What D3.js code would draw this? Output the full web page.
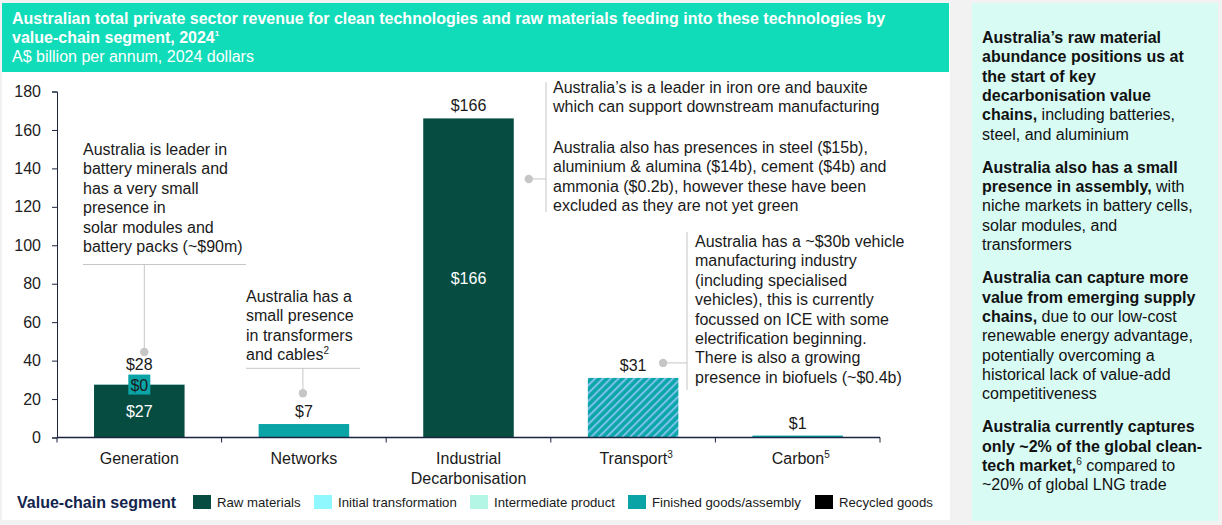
<!DOCTYPE html>
<html>
<head>
<meta charset="utf-8">
<script src="https://cdn.jsdelivr.net/npm/d3@7"></script>
<style>
  html, body { margin: 0; padding: 0; background: #f2f2f2; }
  svg { display: block; font-family: "Liberation Sans", Arial, sans-serif; }
</style>
</head>
<body>
<script>
var width = 1222, height = 525;

// data
var categories = ["Generation", "Networks", "Industrial Decarbonisation", "Transport", "Carbon"];
var rawMaterials = [27.45, 0, 166, 0, 0];
var initialTransformation = [0, 0, 0, 0, 0];
var intermediateProduct = [0, 0, 0, 0, 0];
var finishedGoods = [0.09, 7, 0, 31, 1];
var recycledGoods = [0, 0, 0, 0, 0];
var hatched = [false, false, false, true, false];
var yTicks = [0, 20, 40, 60, 80, 100, 120, 140, 160, 180];
var seriesNames = ["Raw materials", "Initial transformation", "Intermediate product", "Finished goods/assembly", "Recycled goods"];
var seriesColors = ["#064c41", "#8ff8ff", "#b3f6e6", "#0aa3a6", "#000000"];

var svg = d3.select("body").append("svg")
    .attr("width", width)
    .attr("height", height);

var defs = svg.append("defs");
var pat = defs.append("pattern")
    .attr("id", "hatch")
    .attr("patternUnits", "userSpaceOnUse")
    .attr("width", 5.5).attr("height", 5.5)
    .attr("patternTransform", "rotate(45)");
pat.append("rect").attr("width", 5.5).attr("height", 5.5).attr("fill", "#0ba6a8");
pat.append("line").attr("x1", 1).attr("y1", 0).attr("x2", 1).attr("y2", 5.5)
    .attr("stroke", "#7cc0ec").attr("stroke-width", 2);

// panels
svg.append("rect").attr("x", 2).attr("y", 3).attr("width", 948).attr("height", 517).attr("fill", "#fff");
svg.append("rect").attr("x", 2).attr("y", 3).attr("width", 947).attr("height", 69).attr("fill", "#10dcb9");
svg.append("rect").attr("x", 972).attr("y", 3).attr("width", 246).attr("height", 518).attr("fill", "#d8fbf4");

var fs = 16;

// title
var title = svg.append("text").attr("fill", "#fff").attr("font-size", fs);
title.append("tspan").attr("x", 12).attr("y", 24).attr("font-weight", "bold")
    .text("Australian total private sector revenue for clean technologies and raw materials feeding into these technologies by");
title.append("tspan").attr("x", 12).attr("y", 43).attr("font-weight", "bold").text("value-chain segment, 2024");
title.append("tspan").attr("font-weight", "bold").attr("font-size", 8).attr("dy", -7).text("1");
title.append("tspan").attr("x", 12).attr("y", 62).text("A$ billion per annum, 2024 dollars");

// scales
var x = d3.scaleBand().domain(categories).range([57, 880]).paddingInner(0.45).paddingOuter(0.225);
var y = d3.scaleLinear().domain([0, 180]).range([437.5, 91.5]);

var rows = categories.map(function (c, i) {
    return {cat: c, raw: rawMaterials[i], init: initialTransformation[i], inter: intermediateProduct[i],
        fin: finishedGoods[i], rec: recycledGoods[i], hatched: hatched[i]};
});
var keys = ["raw", "init", "inter", "fin", "rec"];
var stacked = d3.stack().keys(keys)(rows);

// y axis
var yAxis = svg.append("g").attr("transform", "translate(57,0)")
    .call(d3.axisLeft(y).tickValues(yTicks).tickSize(5).tickPadding(11));
yAxis.selectAll("path, line").attr("stroke", "#1b2540");
yAxis.selectAll("text").attr("font-size", fs).attr("fill", "#222").attr("font-family", "Liberation Sans, Arial, sans-serif");

// bars
stacked.forEach(function (layer, k) {
    svg.append("g").selectAll("rect")
        .data(layer.filter(function (d) { return d[1] - d[0] > 0; }))
        .enter().append("rect")
        .attr("x", function (d) { return x(d.data.cat); })
        .attr("width", x.bandwidth())
        .attr("y", function (d) { return y(d[1]); })
        .attr("height", function (d) { return y(d[0]) - y(d[1]); })
        .attr("fill", function (d) { return d.data.hatched ? "url(#hatch)" : seriesColors[k]; });
});

// x axis
var step = x.step();
var x0 = x.range()[0];
svg.append("line").attr("x1", x0).attr("x2", x.range()[1]).attr("y1", y(0)).attr("y2", y(0))
    .attr("stroke", "#1b2540").attr("stroke-width", 1.3);
svg.append("g").selectAll("line").data(d3.range(categories.length + 1)).enter().append("line")
    .attr("x1", function (i) { return x0 + i * step; })
    .attr("x2", function (i) { return x0 + i * step; })
    .attr("y1", y(0)).attr("y2", y(0) + 5)
    .attr("stroke", "#1b2540");

var xLabels = [["Generation"], ["Networks"], ["Industrial", "Decarbonisation"], ["Transport", "3"], ["Carbon", "5"]];
xLabels.forEach(function (lab, i) {
    var cx = x(categories[i]) + x.bandwidth() / 2;
    var t = svg.append("text").attr("text-anchor", "middle").attr("font-size", fs).attr("fill", "#1a1a1a");
    if (i === 2) {
        t.append("tspan").attr("x", cx).attr("y", 464).text(lab[0]);
        t.append("tspan").attr("x", cx).attr("y", 484).text(lab[1]);
    } else if (lab.length === 2) {
        t.attr("x", cx + 3).attr("y", 464);
        t.append("tspan").text(lab[0]);
        t.append("tspan").attr("font-size", 10).attr("dy", -6).text(lab[1]);
    } else {
        t.attr("x", cx).attr("y", 464).text(lab[0]);
    }
});

// value labels
rows.forEach(function (r) {
    var cx = x(r.cat) + x.bandwidth() / 2;
    var total = r.raw + r.init + r.inter + r.fin + r.rec;
    var top = y(total);
    var extra = 0;
    // tiny finished-goods segment gets a boxed label
    if (r.fin > 0 && r.fin < 0.5 && r.raw > 0) {
        svg.append("rect").attr("x", cx - 11).attr("y", top - 10).attr("width", 22).attr("height", 20).attr("fill", "#0aa3a6");
        svg.append("text").attr("x", cx).attr("y", top + 6).attr("text-anchor", "middle")
            .attr("font-size", fs).attr("fill", "#1a1a1a").text("$" + Math.round(r.fin));
        extra = 8;
    }
    svg.append("text").attr("x", cx).attr("y", top - 7 - extra).attr("text-anchor", "middle")
        .attr("font-size", fs).attr("fill", "#1a1a1a").text("$" + Math.round(total));
    if (r.raw > 0 && y(0) - y(r.raw) > 40) {
        svg.append("text").attr("x", cx).attr("y", (y(0) + y(r.raw)) / 2 + 6).attr("text-anchor", "middle")
            .attr("font-size", fs).attr("fill", "#fff").text("$" + Math.round(r.raw));
    }
});

// annotations
var lineGrey = "#c6c6c6";
var lh = 19.4;
function addLines(xp, yFirst, lines) {
    var t = svg.append("text").attr("font-size", fs).attr("fill", "#1a1a1a");
    var yy = yFirst;
    lines.forEach(function (l) {
        if (l === "") { yy += 21; return; }
        var ts = t.append("tspan").attr("x", xp).attr("y", yy);
        if (Array.isArray(l)) {
            ts.text(l[0]);
            t.append("tspan").attr("font-size", 10).attr("dy", -6).text(l[1]);
        } else ts.text(l);
        yy += lh;
    });
}
function dot(cx, cy) {
    svg.append("circle").attr("cx", cx).attr("cy", cy).attr("r", 4.2).attr("fill", "#c6c6c6");
}

// generation: text above bar with rule
var gx = x("Generation") + x.bandwidth() / 2 + 5;
addLines(83, 155, ["Australia is leader in", "battery minerals and", "has a very small", "presence in", "solar modules and", "battery packs (~$90m)"]);
svg.append("line").attr("x1", 83).attr("x2", 246).attr("y1", y(90)).attr("y2", y(90)).attr("stroke", lineGrey);
svg.append("line").attr("x1", gx).attr("x2", gx).attr("y1", y(90)).attr("y2", y(44.5)).attr("stroke", lineGrey);
dot(gx, y(44.5));

// networks
var nx = x("Networks") + x.bandwidth() / 2 - 1;
addLines(246, 302, ["Australia has a", "small presence", "in transformers", ["and cables", "2"]]);
svg.append("line").attr("x1", 246).attr("x2", 360).attr("y1", y(36)).attr("y2", y(36)).attr("stroke", lineGrey);
svg.append("line").attr("x1", nx).attr("x2", nx).attr("y1", y(36)).attr("y2", y(23)).attr("stroke", lineGrey);
dot(nx, y(23));

// industrial
var ix = x("Industrial Decarbonisation") + x.bandwidth() + 15;
svg.append("line").attr("x1", 546).attr("x2", 546).attr("y1", 82).attr("y2", 212).attr("stroke", lineGrey);
svg.append("line").attr("x1", ix).attr("x2", 546).attr("y1", y(134.5)).attr("y2", y(134.5)).attr("stroke", lineGrey);
dot(ix, y(134.5));
addLines(553, 93, ["Australia\u2019s is a leader in iron ore and bauxite", "which can support downstream manufacturing", "",
    "Australia also has presences in steel ($15b),", "aluminium & alumina ($14b), cement ($4b) and",
    "ammonia ($0.2b), however these have been", "excluded as they are not yet green"]);

// transport
var tx = x("Transport") + x.bandwidth() / 2 + 30;
svg.append("line").attr("x1", 687).attr("x2", 687).attr("y1", 232).attr("y2", 390).attr("stroke", lineGrey);
svg.append("line").attr("x1", tx).attr("x2", 687).attr("y1", y(38.8)).attr("y2", y(38.8)).attr("stroke", lineGrey);
dot(tx, y(38.8));
addLines(695, 247, ["Australia has a ~$30b vehicle", "manufacturing industry", "(including specialised",
    "vehicles), this is currently", "focussed on ICE with some", "electrification beginning.",
    "There is also a growing", "presence in biofuels (~$0.4b)"]);

// legend
svg.append("text").attr("x", 17).attr("y", 508).attr("font-size", fs).attr("font-weight", "bold")
    .attr("fill", "#13244d").text("Value-chain segment");
var legX = [193, 314, 470, 628, 815];
seriesNames.forEach(function (n, i) {
    svg.append("rect").attr("x", legX[i]).attr("y", 495).attr("width", 18).attr("height", 14).attr("fill", seriesColors[i]);
    svg.append("text").attr("x", legX[i] + 24).attr("y", 507).attr("font-size", 13.2).attr("fill", "#1a1a1a").text(n);
});

// side panel
var side = [
    [[["Australia\u2019s raw material", 1]], [["abundance positions us at", 1]], [["the start of key", 1]],
     [["decarbonisation value", 1]], [["chains,", 1], [" including batteries,", 0]], [["steel, and aluminium", 0]]],
    [[["Australia also has a small", 1]], [["presence in assembly,", 1], [" with", 0]], [["niche markets in battery cells,", 0]],
     [["solar modules, and", 0]], [["transformers", 0]]],
    [[["Australia can capture more", 1]], [["value from emerging supply", 1]], [["chains,", 1], [" due to our low-cost", 0]],
     [["renewable energy advantage,", 0]], [["potentially overcoming a", 0]], [["historical lack of value-add", 0]],
     [["competitiveness", 0]]],
    [[["Australia currently captures", 1]], [["only ~2% of the global clean-", 1]],
     [["tech market,", 1], ["6", 2], [" compared to", 0]], [["~20% of global LNG trade", 0]]]
];
var sy = 43;
side.forEach(function (para) {
    para.forEach(function (line) {
        var t = svg.append("text").attr("x", 982).attr("y", sy).attr("font-size", fs).attr("fill", "#111");
        line.forEach(function (seg) {
            var s = t.append("tspan").text(seg[0]);
            if (seg[1] === 1) s.attr("font-weight", "bold");
            if (seg[1] === 2) s.attr("font-size", 10).attr("dy", -6);
            if (seg[1] === 0 && seg[0].charAt(0) === " " && line.length === 3) s.attr("dy", 6);
        });
        sy += 19.3;
    });
    sy += 14;
});
</script>
</body>
</html>
